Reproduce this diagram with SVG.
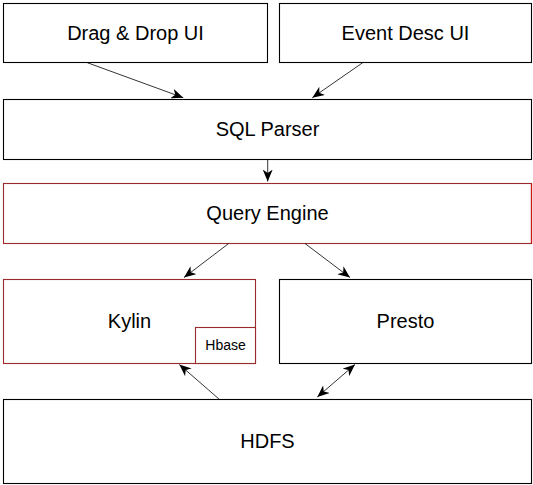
<svg xmlns="http://www.w3.org/2000/svg" width="533" height="485" viewBox="0 0 533 485">
<style>
.box{fill:#fff;stroke:#000;stroke-width:1.1}
.red{fill:#fff;stroke:#9b2a2a;stroke-width:1.1}
.lbl{font-family:"Liberation Sans",Arial,Helvetica,sans-serif;font-size:20px;fill:#000;text-anchor:middle}
.small{font-size:14px}
.conn{fill:none;stroke:#000;stroke-width:0.8}
</style>
<defs>
<marker id="ah" viewBox="0 0 12 10" refX="12" refY="5" markerWidth="12" markerHeight="10" markerUnits="userSpaceOnUse" orient="auto-start-reverse">
<path d="M0,0 L12,5 L0,10 L3.5,5 z" fill="#000"/>
</marker>
</defs>
<rect width="533" height="485" fill="#fff"/>
<g id="drag-drop-ui">
<rect class="box" x="3.5" y="3.5" width="264" height="59"/>
<text class="lbl" x="135.5" y="40">Drag &amp; Drop UI</text>
</g>
<g id="event-desc-ui">
<rect class="box" x="279.5" y="3.5" width="252" height="59"/>
<text class="lbl" x="405.5" y="40">Event Desc UI</text>
</g>
<g id="sql-parser">
<rect class="box" x="3.5" y="99.5" width="528" height="60"/>
<text class="lbl" x="267.5" y="136">SQL Parser</text>
</g>
<g id="query-engine">
<rect class="red" x="3.5" y="183.5" width="528" height="60"/>
<line x1="531.5" y1="183.5" x2="531.5" y2="243.5" stroke="#d41515" stroke-width="1.3"/>
<text class="lbl" x="267.5" y="220">Query Engine</text>
</g>
<g id="kylin">
<rect class="red" x="3.5" y="279.5" width="252" height="84"/>
<text class="lbl" x="129.5" y="328">Kylin</text>
</g>
<g id="hbase">
<rect class="red" x="195.5" y="327.5" width="60" height="36"/>
<text class="lbl small" x="225.5" y="350">Hbase</text>
</g>
<g id="presto">
<rect class="box" x="279.5" y="279.5" width="252" height="84"/>
<text class="lbl" x="405.5" y="328">Presto</text>
</g>
<g id="hdfs">
<rect class="box" x="3.5" y="399.5" width="528" height="84"/>
<text class="lbl" x="267.5" y="448">HDFS</text>
</g>
<g id="connectors">
<line class="conn" x1="87.3" y1="62.7" x2="183.3" y2="97.7" marker-end="url(#ah)"/>
<line class="conn" x1="362.7" y1="62.7" x2="312.3" y2="97.7" marker-end="url(#ah)"/>
<line class="conn" x1="267.7" y1="159.5" x2="267.7" y2="181.5" marker-end="url(#ah)"/>
<line class="conn" x1="228.7" y1="243.5" x2="184" y2="277.5" marker-end="url(#ah)"/>
<line class="conn" x1="305" y1="243.5" x2="350" y2="277.5" marker-end="url(#ah)"/>
<line class="conn" x1="219.3" y1="399.3" x2="179.3" y2="364.5" marker-end="url(#ah)"/>
<line class="conn" x1="317.3" y1="397" x2="355" y2="364.5" marker-start="url(#ah)" marker-end="url(#ah)"/>
</g>
</svg>
